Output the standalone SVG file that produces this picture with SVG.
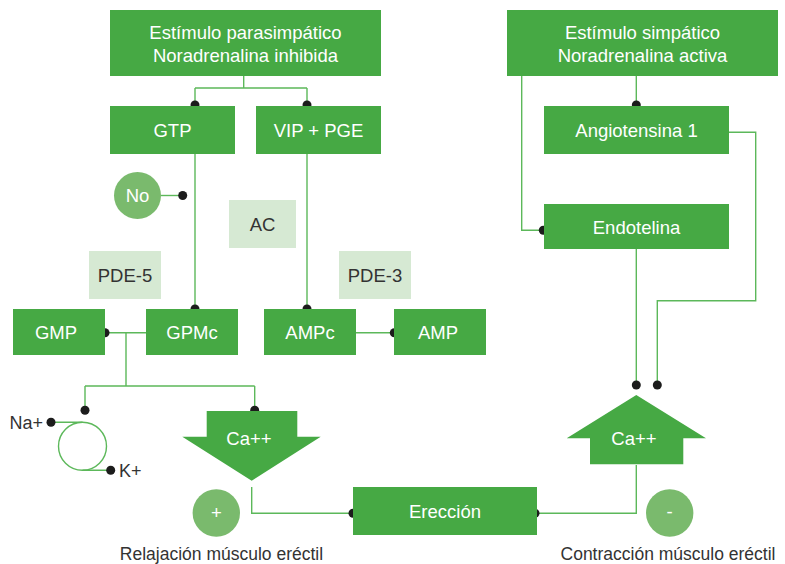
<svg xmlns="http://www.w3.org/2000/svg" width="785" height="564" viewBox="0 0 785 564">
  <style>
    .box { fill: #46a944; }
    .soft { fill: #d6e9d3; }
    .disc { fill: #7aba6d; }
    .lbl { font-family: "Liberation Sans", Arial, sans-serif; font-size: 18.5px; fill: #ffffff; text-anchor: middle; dominant-baseline: central; }
    .dark { fill: #333333; }
    .plain { font-family: "Liberation Sans", Arial, sans-serif; font-size: 17.5px; fill: #333333; }
    .ion { font-size: 18px; }
    .wire { fill: none; stroke: #5cb85a; stroke-width: 1.4; }
    .dot { fill: #1c1c1c; }
  </style>

  <rect width="785" height="564" fill="#ffffff"/>

  <!-- connectors -->
  <g id="connectors">
    <path class="wire" d="M243.7 76 V88 M195 88 H307 M195 88 V105 M307 88 V105"/>
    <path class="wire" d="M195 154 V309"/>
    <path class="wire" d="M161 195.5 H182.7"/>
    <path class="wire" d="M307 154 V309"/>
    <path class="wire" d="M105 332.7 H146 M126 332.7 V386 M85 386 H254.7 M85 386 V410.3 M254.7 386 V410.3"/>
    <path class="wire" d="M356 332.7 H394.3"/>
    <path class="wire" d="M51 422.3 H82.5 M82.5 470.3 H110.7"/>
    <circle class="wire" cx="82.5" cy="446.3" r="24"/>
    <path class="wire" d="M251.7 487 V513.3 H353"/>
    <path class="wire" d="M537 513.3 H636.3 V465"/>
    <path class="wire" d="M636.3 76 V105"/>
    <path class="wire" d="M729 132.3 H755.7 V300.7 H657.3 V385"/>
    <path class="wire" d="M521.7 76 V230.3 H543.3"/>
    <path class="wire" d="M636.3 248.7 V385"/>

    <circle class="dot" cx="195" cy="105" r="4.5"/>
    <circle class="dot" cx="307" cy="105" r="4.5"/>
    <circle class="dot" cx="182.7" cy="195.5" r="4.5"/>
    <circle class="dot" cx="195" cy="309" r="4.5"/>
    <circle class="dot" cx="307" cy="309" r="4.5"/>
    <circle class="dot" cx="105" cy="332.7" r="4.5"/>
    <circle class="dot" cx="394.3" cy="332.7" r="4.5"/>
    <circle class="dot" cx="85" cy="410.3" r="4.5"/>
    <circle class="dot" cx="254.7" cy="410.3" r="4.5"/>
    <circle class="dot" cx="51" cy="422.3" r="4.5"/>
    <circle class="dot" cx="110.7" cy="470.3" r="4.5"/>
    <circle class="dot" cx="353" cy="513.3" r="4.5"/>
    <circle class="dot" cx="535" cy="513.3" r="4.5"/>
    <circle class="dot" cx="636.3" cy="105" r="4.5"/>
    <circle class="dot" cx="543.3" cy="230.3" r="4.5"/>
    <circle class="dot" cx="636.3" cy="385" r="4.5"/>
    <circle class="dot" cx="657.3" cy="385" r="4.5"/>
  </g>

  <!-- parasympathetic branch -->
  <g id="parasimpatico">
    <rect class="box" x="110" y="10" width="271" height="66"/>
    <text class="lbl" x="245.5" y="32">Estímulo parasimpático</text>
    <text class="lbl" x="245.5" y="55">Noradrenalina inhibida</text>
  </g>
  <g id="gtp">
    <rect class="box" x="110" y="106" width="125" height="48"/>
    <text class="lbl" x="172.5" y="130">GTP</text>
  </g>
  <g id="vip-pge">
    <rect class="box" x="256" y="106" width="125" height="48"/>
    <text class="lbl" x="318.5" y="130">VIP + PGE</text>
  </g>
  <g id="no">
    <circle class="disc" cx="137.5" cy="195.5" r="23.5"/>
    <text class="lbl" x="137.5" y="195.5">No</text>
  </g>
  <g id="ac">
    <rect class="soft" x="229" y="200" width="67" height="48"/>
    <text class="lbl dark" x="262.5" y="224">AC</text>
  </g>
  <g id="pde5">
    <rect class="soft" x="89" y="251" width="72" height="48"/>
    <text class="lbl dark" x="125" y="275">PDE-5</text>
  </g>
  <g id="pde3">
    <rect class="soft" x="339" y="251" width="72" height="48"/>
    <text class="lbl dark" x="375" y="275">PDE-3</text>
  </g>
  <g id="gmp">
    <rect class="box" x="13" y="309" width="92" height="46"/>
    <text class="lbl" x="56" y="332">GMP</text>
  </g>
  <g id="gpmc">
    <rect class="box" x="146" y="309" width="92" height="46"/>
    <text class="lbl" x="192" y="332">GPMc</text>
  </g>
  <g id="ampc">
    <rect class="box" x="264" y="309" width="92" height="46"/>
    <text class="lbl" x="310" y="332">AMPc</text>
  </g>
  <g id="amp">
    <rect class="box" x="394" y="309" width="92" height="46"/>
    <text class="lbl" x="438" y="332">AMP</text>
  </g>
  <g id="na-k">
    <text class="plain ion" x="43" y="422.5" text-anchor="end" dominant-baseline="central">Na+</text>
    <text class="plain ion" x="119" y="470.5" dominant-baseline="central">K+</text>
  </g>
  <g id="ca-down">
    <path class="box" d="M206.7 411 H297.3 V436.7 H320.7 L251.7 480.7 L182.3 436.7 H206.7 Z"/>
    <text class="lbl" x="249" y="438">Ca++</text>
  </g>
  <g id="relajacion">
    <circle class="disc" cx="216.3" cy="513" r="23.7"/>
    <text class="lbl" x="216.3" y="512">+</text>
    <text class="plain" x="221.5" y="560" text-anchor="middle">Relajación músculo eréctil</text>
  </g>
  <g id="ereccion">
    <rect class="box" x="353" y="487" width="184" height="48"/>
    <text class="lbl" x="445" y="511">Erección</text>
  </g>

  <!-- sympathetic branch -->
  <g id="simpatico">
    <rect class="box" x="507" y="10" width="271" height="66"/>
    <text class="lbl" x="642.5" y="32">Estímulo simpático</text>
    <text class="lbl" x="642.5" y="55">Noradrenalina activa</text>
  </g>
  <g id="angiotensina">
    <rect class="box" x="544" y="106" width="185" height="48"/>
    <text class="lbl" x="636.5" y="130">Angiotensina 1</text>
  </g>
  <g id="endotelina">
    <rect class="box" x="544" y="204" width="185" height="45"/>
    <text class="lbl" x="636.5" y="227">Endotelina</text>
  </g>
  <g id="ca-up">
    <path class="box" d="M636.3 395 L706 438.3 H683.3 V464.3 H590 V438.3 H566.7 Z"/>
    <text class="lbl" x="634" y="438">Ca++</text>
  </g>
  <g id="contraccion">
    <circle class="disc" cx="669.7" cy="513" r="23.7"/>
    <text class="lbl" x="669.7" y="511">-</text>
    <text class="plain" x="668" y="560" text-anchor="middle">Contracción músculo eréctil</text>
  </g>
</svg>
